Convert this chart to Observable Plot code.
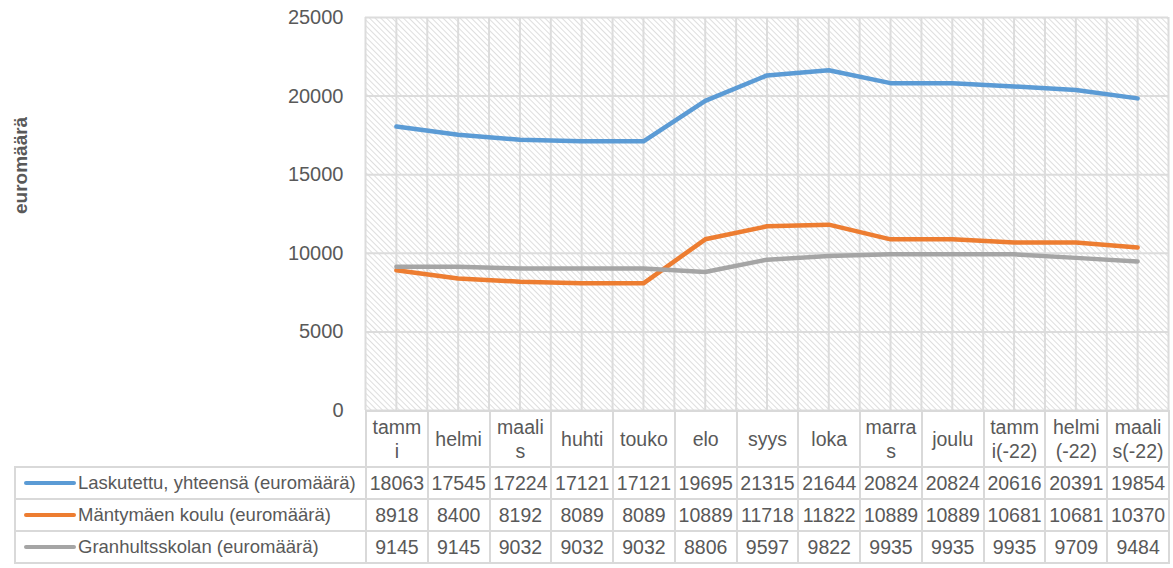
<!DOCTYPE html>
<html>
<head>
<meta charset="utf-8">
<script src="https://cdn.jsdelivr.net/npm/d3@7"></script>
<script src="https://cdn.jsdelivr.net/npm/@observablehq/plot@0.6"></script>
<style>
  html, body { margin: 0; padding: 0; background: #fff; }
  body { width: 1173px; height: 568px; overflow: hidden; font-family: "Liberation Sans", Arial, sans-serif; color: #595959; }
  #chart svg { display: block; }
  table.dt { border-collapse: collapse; table-layout: fixed; margin-left: 14px; margin-top: -16px; width: 1154px; position: relative; }
  table.dt td { border: 2px solid #d9d9d9; text-align: center; padding: 0; font-size: 19.5px; color: #595959; white-space: nowrap; overflow: visible; }
  table.dt tr.head td { height: 54px; line-height: 24px; }
  table.dt tr.head td.blank { border-top: none; border-left: none; border-bottom: 2px solid #d9d9d9; }
  table.dt tr.row td { height: 30px; }
  table.dt td .wrap { width: 2.666em; margin: 0 auto; white-space: normal; word-break: break-all; }
  table.dt td.leg { text-align: left; padding-left: 8px; font-size: 18.5px; }
  .sw { display: inline-block; width: 52px; height: 4px; border-radius: 2px; vertical-align: middle; margin-right: 2px; position: relative; top: -1px; }
</style>
</head>
<body>
<div id="chart"></div>
<script>
// ---- data ----
const months = ["tammi", "helmi", "maalis", "huhti", "touko", "elo", "syys", "loka", "marras", "joulu", "tammi(-22)", "helmi(-22)", "maalis(-22)"];
const seriesNames = ["Laskutettu, yhteensä (euromäärä)", "Mäntymäen koulu (euromäärä)", "Granhultsskolan (euromäärä)"];
const laskutettu = [18063, 17545, 17224, 17121, 17121, 19695, 21315, 21644, 20824, 20824, 20616, 20391, 19854];
const mantymaki = [8918, 8400, 8192, 8089, 8089, 10889, 11718, 11822, 10889, 10889, 10681, 10681, 10370];
const granhult = [9145, 9145, 9032, 9032, 9032, 8806, 9597, 9822, 9935, 9935, 9935, 9709, 9484];
const seriesColors = ["#5b9bd5", "#ed7d31", "#a5a5a5"];
const yTicks = [0, 5000, 10000, 15000, 20000, 25000];
const yTitle = "euromäärä";

const seriesValues = [laskutettu, mantymaki, granhult];
const rows = seriesNames.flatMap((s, k) => seriesValues[k].map((v, i) => ({i, v, s})));
const gridXs = months.flatMap((_, i) => [i - 0.5, i]).concat([months.length - 0.5]);

const plot = Plot.plot({
  width: 1173,
  height: 426,
  marginLeft: 365,
  marginRight: 5,
  marginTop: 17,
  marginBottom: 16,
  style: {fontFamily: "'Liberation Sans', Arial, sans-serif", color: "#595959", background: "#fff"},
  x: {domain: [-0.5, months.length - 0.5], axis: null},
  y: {domain: [0, 25000], ticks: yTicks, tickSize: 0, tickPadding: 22, tickFormat: d => String(d), label: null, fontSize: 20},
  color: {domain: seriesNames, range: seriesColors},
  marks: [
    Plot.frame({fill: "url(#hatch)", stroke: null}),
    Plot.gridX({ticks: gridXs, stroke: "#dcdcdc", strokeOpacity: 1, strokeWidth: 2}),
    Plot.gridY({ticks: yTicks, stroke: "#dcdcdc", strokeOpacity: 1, strokeWidth: 2}),
    Plot.axisY({ticks: yTicks, tickSize: 0, tickPadding: 22, tickFormat: d => String(d), fontSize: 20, fill: "#595959", label: null}),
    Plot.line(rows, {x: "i", y: "v", z: "s", stroke: "s", strokeWidth: 4.5, strokeLinecap: "round", strokeLinejoin: "round"}),
    Plot.text([yTitle], {frameAnchor: "left", dx: -345, rotate: -90, fontWeight: "bold", fontSize: 19, fill: "#595959"})
  ]
});

// hatch pattern for the plot area
const ns = "http://www.w3.org/2000/svg";
const defs = document.createElementNS(ns, "defs");
defs.innerHTML = `<pattern id="hatch" width="4" height="4" patternUnits="userSpaceOnUse" patternTransform="rotate(-45)">
  <rect width="4" height="4" fill="#ffffff"/>
  <line x1="0" y1="0" x2="0" y2="4" stroke="#cdcdcd" stroke-width="1.3"/>
</pattern>`;
plot.insertBefore(defs, plot.firstChild);
document.getElementById("chart").appendChild(plot);

// data table below the chart
const table = document.createElement("table");
table.className = "dt";
const cg = document.createElement("colgroup");
cg.innerHTML = `<col style="width:351px">` + months.map(() => `<col style="width:${803 / months.length}px">`).join("");
table.appendChild(cg);
const head = document.createElement("tr");
head.className = "head";
head.innerHTML = `<td class="blank"></td>` + months.map(m => `<td><div class="wrap">${m}</div></td>`).join("");
table.appendChild(head);
seriesNames.forEach((s, k) => {
  const tr = document.createElement("tr");
  tr.className = "row";
  tr.innerHTML = `<td class="leg"><span class="sw" style="background:${seriesColors[k]}"></span>${s}</td>` +
    seriesValues[k].map(v => `<td>${v}</td>`).join("");
  table.appendChild(tr);
});
document.body.appendChild(table);
</script>
</body>
</html>
